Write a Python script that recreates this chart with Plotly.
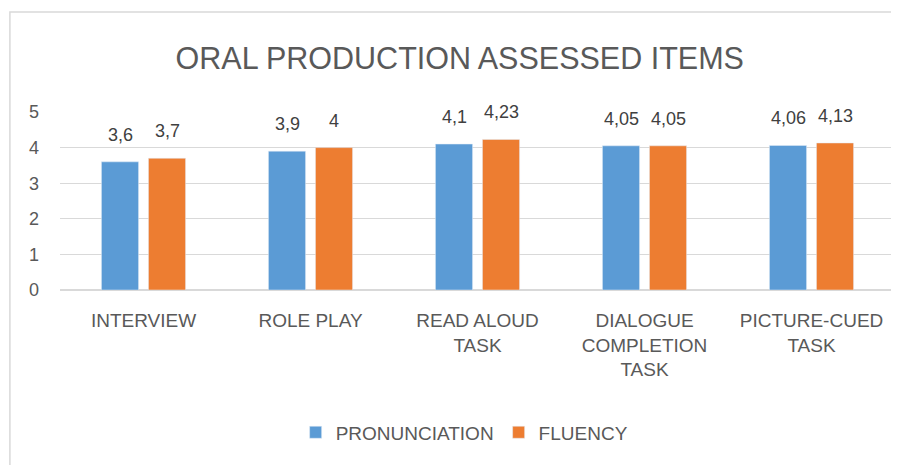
import plotly.graph_objects as go

categories = ["INTERVIEW", "ROLE PLAY", "READ ALOUD<br>TASK",
              "DIALOGUE<br>COMPLETION<br>TASK", "PICTURE-CUED<br>TASK"]
pronunciation = [3.6, 3.9, 4.1, 4.05, 4.06]
fluency = [3.7, 4.0, 4.23, 4.05, 4.13]

FONT = "Liberation Sans, Arial, sans-serif"
BAR_OFFSET = 23.5  # half the distance between the centres of a bar pair, px


def comma(v):
    # Excel-style decimal comma
    return f"{v:g}".replace(".", ",")


fig = go.Figure()
fig.add_trace(go.Bar(x=categories, y=pronunciation, name="PRONUNCIATION",
                     marker_color="#5b9bd5"))
fig.add_trace(go.Bar(x=categories, y=fluency, name="FLUENCY",
                     marker_color="#ed7d31"))

# data labels floating above each bar
for series, shift in ((pronunciation, -BAR_OFFSET), (fluency, BAR_OFFSET)):
    for cat, val in zip(categories, series):
        fig.add_annotation(x=cat, y=val, text=comma(val), showarrow=False,
                           xshift=shift, yshift=27, yanchor="middle",
                           font=dict(size=18, color="#404040"))

# outer chart frame (right and bottom edges run off the page)
fig.add_shape(type="rect", xref="paper", yref="paper",
              x0=-0.06, x1=1.1, y0=-1.2, y1=1.562,
              line=dict(color="#d9d9d9", width=1.5), fillcolor="rgba(0,0,0,0)")

fig.update_layout(
    width=891, height=457,
    margin=dict(l=52, r=4, t=104, b=175),
    paper_bgcolor="white", plot_bgcolor="white",
    font=dict(family=FONT, color="#595959"),
    title=dict(text="ORAL PRODUCTION ASSESSED ITEMS", x=0.507, xref="container",
               y=0.89, yanchor="middle", font=dict(size=30.5, color="#595959")),
    barmode="group", bargap=0.437, bargroupgap=0.21,
    showlegend=True,
    legend=dict(orientation="h", x=0.484, xanchor="center", y=-0.8, yanchor="middle",
                font=dict(size=19, color="#595959"), itemwidth=30),
)
fig.update_yaxes(range=[0, 5], dtick=1, showgrid=True, gridcolor="#d9d9d9",
                 zeroline=True, zerolinecolor="#d9d9d9", tickfont=dict(size=18),
                 ticklabelstandoff=20)
fig.update_xaxes(tickfont=dict(size=19), showline=False, tickangle=0,
                 ticklabelstandoff=17)

fig.write_html("out.html")
